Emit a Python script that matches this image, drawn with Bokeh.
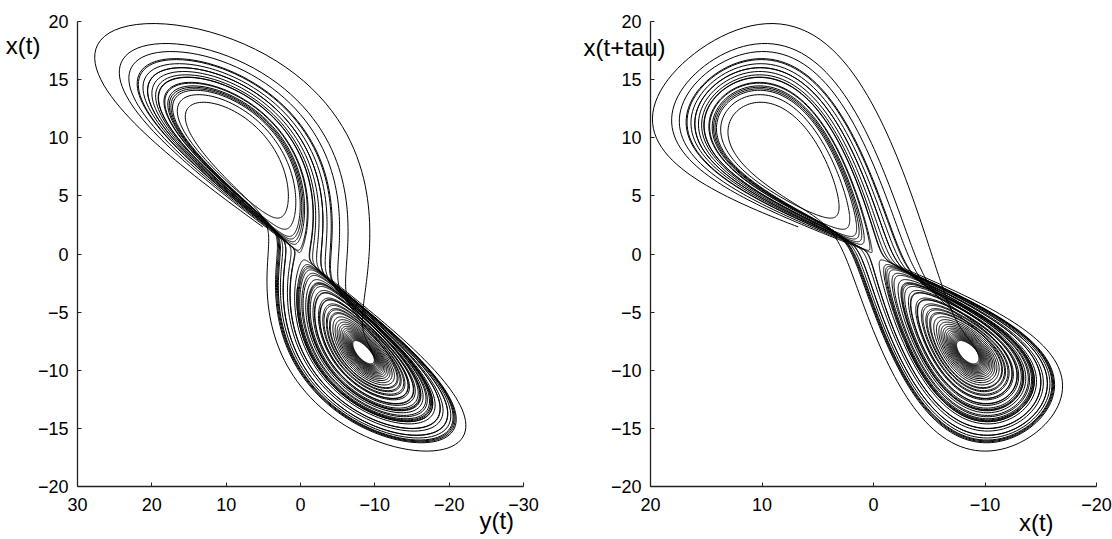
import numpy as np
from bokeh.plotting import figure
from bokeh.layouts import row
from bokeh.models import FixedTicker, LinearAxis, Range1d
from bokeh.embed import file_html
from bokeh.resources import INLINE

# Lorenz system that generates the pictured trajectory
SIGMA = 10.0
RHO = 28.0
BETA = 8.0 / 3.0
EPS = 1e-3          # departure from the origin along its unstable direction
X_FIRST = 2.27      # first value of x(t)
X_SECOND = 6.55     # value of x one delay later
DT = 0.004
T_TOTAL = 52.0

left_xticks = [30, 20, 10, 0, -10, -20, -30]
right_xticks = [20, 10, 0, -10, -20]
yticks = [-20, -15, -10, -5, 0, 5, 10, 15, 20]


def deriv(s):
    x, y, z = s
    return np.array([SIGMA * (y - x), x * (RHO - z) - y, x * y - BETA * z])


def integrate(s0, dt, n):
    out = np.empty((n + 1, 3))
    s = np.array(s0, dtype=float)
    out[0] = s
    for i in range(n):
        k1 = deriv(s)
        k2 = deriv(s + 0.5 * dt * k1)
        k3 = deriv(s + 0.5 * dt * k2)
        k4 = deriv(s + dt * k3)
        s = s + dt / 6.0 * (k1 + 2 * k2 + 2 * k3 + k4)
        out[i + 1] = s
    return out


lam = (-(SIGMA + 1) + np.sqrt((SIGMA + 1) ** 2 + 4 * SIGMA * (RHO - 1))) / 2
pre = integrate(EPS * np.array([1.0, (lam + SIGMA) / SIGMA, 0.0]), DT, int(3 / DT))
start = pre[np.argmax(pre[:, 0] >= X_FIRST)]
traj = integrate(start, DT, int(T_TOTAL / DT))
xs = traj[:, 0]
ys = traj[:, 1]
lag = int(np.argmax(xs >= X_SECOND))

FONT = "Liberation Sans"


def fmt(v):
    return str(v).replace("-", "\u2212")


def style(p, xt):
    p.xgrid.visible = False
    p.ygrid.visible = False
    p.outline_line_color = None
    p.background_fill_color = "white"
    p.border_fill_color = "white"
    p.xaxis.ticker = FixedTicker(ticks=xt)
    p.yaxis.ticker = FixedTicker(ticks=yticks)
    p.xaxis.major_label_overrides = {v: fmt(v) for v in xt}
    p.yaxis.major_label_overrides = {v: fmt(v) for v in yticks}
    for ax in (p.xaxis, p.yaxis):
        ax.axis_line_color = "#222222"
        ax.axis_line_width = 1.3
        ax.major_tick_in = 4
        ax.major_tick_out = 0
        ax.major_tick_line_color = "#222222"
        ax.minor_tick_line_color = None
        ax.major_label_text_font = FONT
        ax.major_label_text_font_size = "18px"
        ax.major_label_text_color = "black"
    p.xaxis.major_label_standoff = 11
    p.yaxis.major_label_standoff = 9


def name_axis(text, where, standoff):
    # an axis carrying only one label: the variable's name, placed at a data value
    return LinearAxis(ticker=FixedTicker(ticks=[where]),
                      major_label_overrides={where: text},
                      axis_line_color=None, major_tick_line_color=None,
                      minor_tick_line_color=None, major_tick_in=0, major_tick_out=0,
                      major_label_standoff=standoff,
                      major_label_text_font=FONT, major_label_text_font_size="24px",
                      major_label_text_color="black")


left = figure(width=556, height=539, x_range=Range1d(30, -30), y_range=Range1d(-20, 20),
              min_border_left=77, min_border_right=33, min_border_top=17, min_border_bottom=53,
              output_backend="svg", toolbar_location=None)
style(left, left_xticks)
left.line(ys, xs, line_color="black", line_width=1)
left.add_layout(name_axis("x(t)", 17.9, -6), "left")
left.add_layout(name_axis("y(t)", -26.4, -7), "below")

right = figure(width=556, height=539, x_range=Range1d(20, -20), y_range=Range1d(-20, 20),
               min_border_left=94, min_border_right=16, min_border_top=21, min_border_bottom=51,
               output_backend="svg", toolbar_location=None)
style(right, right_xticks)
right.line(xs[lag:], xs[:-lag], line_color="black", line_width=1)
right.add_layout(name_axis("x(t+tau)", 17.77, -58), "left")
right.add_layout(name_axis("x(t)", -14.6, -5), "below")

layout = row(left, right)
open("out.html", "w").write(file_html(layout, INLINE))
